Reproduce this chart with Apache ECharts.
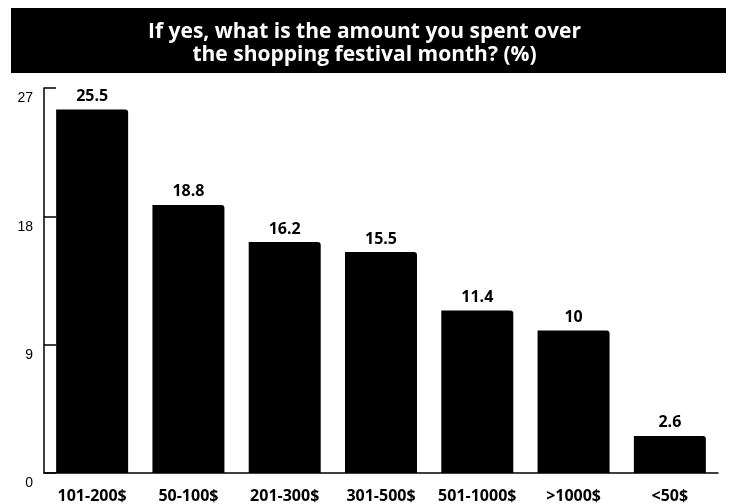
<!DOCTYPE html>
<html>
<head>
<meta charset="utf-8">
<script src="https://cdn.jsdelivr.net/npm/echarts@6/dist/echarts.min.js"></script>
<style>
  html, body { margin: 0; padding: 0; background: #fff; }
  #chart { width: 729px; height: 504px; }
</style>
</head>
<body>
<div id="chart"></div>
<script>
// Spending brackets and share of respondents (%)
const categories = ['101-200$', '50-100$', '201-300$', '301-500$', '501-1000$', '>1000$', '<50$'];
const shares = [25.5, 18.8, 16.2, 15.5, 11.4, 10, 2.6];
const yTicks = [0, 9, 18, 27];

const titleText = 'If yes, what is the amount you spent over\nthe shopping festival month? (%)';
const boldFont = '"Open Sans", "Noto Sans", sans-serif';

const chart = echarts.init(document.getElementById('chart'));
chart.setOption({
  animation: false,
  backgroundColor: '#fff',
  title: {
    text: titleText,
    left: 'center',
    top: 16,
    textStyle: {
      color: '#fff',
      fontFamily: boldFont,
      fontWeight: 700,
      fontSize: 21,
      lineHeight: 23
    }
  },
  graphic: [{
    type: 'rect',
    z: -1,
    shape: { x: 11, y: 8, width: 715, height: 65 },
    style: { fill: '#000' }
  }],
  grid: { left: 44, right: 11, top: 88, bottom: 30 },
  xAxis: {
    type: 'category',
    data: categories,
    axisLine: { lineStyle: { color: '#000', width: 1.5 } },
    axisTick: { inside: true, length: 9, lineStyle: { color: '#000', width: 1.5 } },
    axisLabel: {
      color: '#000',
      fontFamily: boldFont,
      fontWeight: 700,
      fontSize: 16,
      margin: 15,
      interval: 0
    }
  },
  yAxis: {
    type: 'value',
    min: yTicks[0],
    max: yTicks[yTicks.length - 1],
    interval: yTicks[1] - yTicks[0],
    splitLine: { show: false },
    axisLine: { show: true, lineStyle: { color: '#000', width: 1.5 } },
    axisTick: { show: true, inside: true, length: 12, lineStyle: { color: '#000', width: 1.5 } },
    axisLabel: {
      color: '#000',
      fontFamily: '"Liberation Sans", Arial, sans-serif',
      fontSize: 14,
      margin: 11,
      verticalAlign: 'top',
      lineHeight: 21
    }
  },
  series: [{
    type: 'bar',
    data: shares,
    barWidth: 72,
    itemStyle: { color: '#000', borderRadius: [0, 3, 0, 0] },
    label: {
      show: true,
      position: 'top',
      distance: 5,
      color: '#000',
      fontFamily: boldFont,
      fontWeight: 700,
      fontSize: 16
    }
  }]
});
</script>
</body>
</html>
